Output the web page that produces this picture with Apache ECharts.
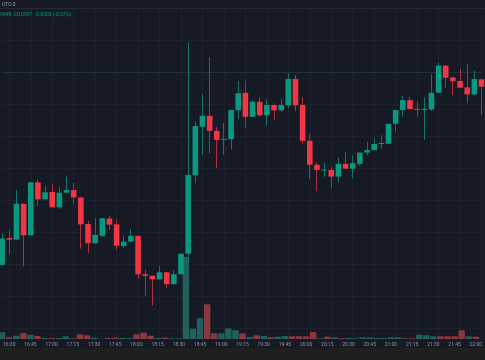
<!DOCTYPE html>
<html><head><meta charset="utf-8">
<style>html,body{margin:0;padding:0;background:#161a25;}#c{width:485px;height:360px;}</style>
<script src="https://cdn.jsdelivr.net/npm/echarts@6/dist/echarts.min.js"></script>
</head><body><div id="c"></div>
<script>
const categories = ["16:25","16:30","16:35","16:40","16:45","16:50","16:55","17:00","17:05","17:10","17:15","17:20","17:25","17:30","17:35","17:40","17:45","17:50","17:55","18:00","18:05","18:10","18:15","18:20","18:25","18:30","18:35","18:40","18:45","18:50","18:55","19:00","19:05","19:10","19:15","19:20","19:25","19:30","19:35","19:40","19:45","19:50","19:55","20:00","20:05","20:10","20:15","20:20","20:25","20:30","20:35","20:40","20:45","20:50","20:55","21:00","21:05","21:10","21:15","21:20","21:25","21:30","21:35","21:40","21:45","21:50","21:55","22:00"];
const opens = [0.09397,0.09481,0.09476,0.09588,0.09490,0.09655,0.09602,0.09625,0.09577,0.09623,
0.09631,0.09608,0.09525,0.09465,0.09488,0.09542,0.09524,0.09456,0.09470,0.09488,
0.09368,0.09363,0.09352,0.09374,0.09337,0.09368,0.09432,0.09677,0.09829,0.09863,
0.09816,0.09788,0.09790,0.09881,0.09935,0.09860,0.09907,0.09865,0.09897,0.09880,
0.09896,0.09978,0.09897,0.09785,0.09710,0.09693,0.09694,0.09673,0.09713,0.09698,
0.09713,0.09748,0.09756,0.09775,0.09776,0.09838,0.09881,0.09912,0.09885,0.09881,
0.09883,0.09935,0.10020,0.09983,0.09972,0.09952,0.09930,0.09977];
const closes = [0.09480,0.09476,0.09588,0.09490,0.09655,0.09602,0.09624,0.09577,0.09623,0.09631,
0.09608,0.09524,0.09465,0.09491,0.09543,0.09523,0.09457,0.09470,0.09488,0.09368,
0.09363,0.09352,0.09374,0.09337,0.09368,0.09432,0.09678,0.09831,0.09863,0.09816,
0.09788,0.09791,0.09881,0.09934,0.09860,0.09907,0.09865,0.09897,0.09880,0.09897,
0.09978,0.09896,0.09785,0.09710,0.09694,0.09695,0.09673,0.09713,0.09698,0.09715,
0.09748,0.09756,0.09775,0.09778,0.09838,0.09881,0.09912,0.09884,0.09882,0.09885,
0.09935,0.10020,0.09982,0.09971,0.09951,0.09930,0.09978,0.09954];
const highs = [0.09496,0.09506,0.09631,0.09589,0.09656,0.09665,0.09644,0.09651,0.09641,0.09676,
0.09653,0.09609,0.09534,0.09543,0.09544,0.09550,0.09540,0.09488,0.09509,0.09489,
0.09381,0.09364,0.09394,0.09375,0.09381,0.09433,0.10093,0.09845,0.09931,0.10046,
0.09827,0.09841,0.09882,0.09972,0.09973,0.09912,0.09920,0.09915,0.09898,0.09916,
0.09996,0.09991,0.09920,0.09806,0.09718,0.09717,0.09702,0.09733,0.09750,0.09740,
0.09748,0.09782,0.09794,0.09802,0.09838,0.09882,0.09925,0.09923,0.09907,0.09921,
0.09994,0.10029,0.10020,0.09984,0.10009,0.10024,0.10004,0.09978];
const lows = [0.09395,0.09430,0.09475,0.09392,0.09489,0.09582,0.09598,0.09577,0.09572,0.09621,
0.09588,0.09448,0.09435,0.09464,0.09483,0.09506,0.09444,0.09449,0.09469,0.09355,
0.09301,0.09270,0.09352,0.09324,0.09336,0.09367,0.09402,0.09652,0.09741,0.09745,
0.09699,0.09741,0.09758,0.09854,0.09826,0.09859,0.09860,0.09833,0.09850,0.09876,
0.09887,0.09878,0.09777,0.09665,0.09629,0.09673,0.09638,0.09654,0.09697,0.09667,
0.09707,0.09739,0.09755,0.09760,0.09774,0.09814,0.09860,0.09884,0.09860,0.09788,
0.09878,0.09934,0.09951,0.09928,0.09950,0.09902,0.09928,0.09866];
const volumes = [6700,1700,3300,6000,4300,3000,1000,1000,1000,2700,
700,4700,3700,1300,300,1000,1300,1000,1000,4700,
6300,3300,1000,1300,700,700,82000,10300,20700,34700,
5700,5700,10700,8700,5700,2000,3700,3000,1700,2300,
3000,2700,2700,2700,7000,700,2300,1700,700,1000,
700,1700,1700,1000,1000,1700,1700,700,700,4300,
3700,2700,2700,2700,2700,8700,2700,2300];
const headerText = "UTC-3";
const legendText = "9948  C0.0997  -0.0003 (-0.37%)";
const priceLineValue = 0.1;

const UP = '#089981', DOWN = '#f23645';
const UP_WICK = '#137563', DOWN_WICK = '#b02d3b';
const UP_VOL = '#21605d', DOWN_VOL = '#8b393e';
const BG = '#161a25', GRID = '#1d212c';

const candleData = categories.map((c, i) => [i, opens[i], closes[i], lows[i], highs[i]]);
const volData = volumes.map((v, i) => ({
  value: v,
  itemStyle: { color: closes[i] >= opens[i] ? UP_VOL : DOWN_VOL }
}));
const labelIdx = (idx) => idx % 3 === 1;

const chart = echarts.init(document.getElementById('c'), null, { renderer: 'canvas' });
chart.setOption({
  backgroundColor: BG,
  animation: false,
  grid: [
    { left: 2.15, right: 3.5, top: 8, bottom: 0 },
    { left: 2.15, right: 3.5, bottom: 21, height: 100 }
  ],
  xAxis: [
    { type: 'category', gridIndex: 0, data: categories, boundaryGap: false,
      axisLine: { show: false }, axisTick: { show: false }, axisLabel: { show: false },
      splitLine: { show: true, interval: labelIdx, lineStyle: { color: GRID, width: 1 } } },
    { type: 'category', gridIndex: 1, data: categories, boundaryGap: false,
      axisLine: { show: false }, axisTick: { show: false },
      axisLabel: { show: true, interval: labelIdx, color: '#8f939e', fontSize: 5, margin: 3,
        fontFamily: 'Roboto' },
      splitLine: { show: false } }
  ],
  yAxis: [
    { type: 'value', gridIndex: 0, min: 0.091, max: 0.102, interval: 0.001, scale: true,
      axisLine: { show: false }, axisTick: { show: false }, axisLabel: { show: false },
      splitLine: { show: true, lineStyle: { color: GRID, width: 1 } } },
    { type: 'value', gridIndex: 1, min: 0, max: 100000,
      axisLine: { show: false }, axisTick: { show: false }, axisLabel: { show: false },
      splitLine: { show: false } }
  ],
  series: [
    { type: 'bar', xAxisIndex: 1, yAxisIndex: 1, data: volData, barWidth: 6.4, z: 1,
      silent: true },
    { type: 'custom', xAxisIndex: 0, yAxisIndex: 0, data: candleData, z: 5,
      encode: { x: 0, y: [1, 2, 3, 4] },
      markLine: { silent: true, symbol: 'none', label: { show: false },
        lineStyle: { color: '#24302f', width: 1, type: 'solid' },
        data: [{ yAxis: priceLineValue }] },
      renderItem: function (params, api) {
        const i = api.value(0), o = api.value(1), c = api.value(2), l = api.value(3), h = api.value(4);
        const pO = api.coord([i, o]), pC = api.coord([i, c]);
        const pL = api.coord([i, l]), pH = api.coord([i, h]);
        const bw = api.size([1, 0])[0] * 0.78;
        const up = c >= o;
        const top = Math.min(pO[1], pC[1]);
        let bh = Math.abs(pO[1] - pC[1]);
        if (bh < 1) bh = 1;
        const wx = Math.round(pO[0] - 0.5);
        return {
          type: 'group',
          children: [
            { type: 'rect', shape: { x: wx, y: pH[1], width: 1, height: pL[1] - pH[1] },
              style: { fill: up ? UP_WICK : DOWN_WICK } },
            { type: 'rect', shape: { x: pO[0] - bw / 2, y: top, width: bw, height: bh },
              style: { fill: up ? UP : DOWN } }
          ]
        };
      }
    }
  ],
  graphic: [
    { type: 'rect', left: 0, top: 0, shape: { width: 485, height: 8 }, style: { fill: '#181b24' }, z: 10 },
    { type: 'rect', left: 0, top: 8, shape: { width: 485, height: 1 }, style: { fill: '#262a35' }, z: 10 },
    { type: 'text', left: 2, top: 2, style: { text: headerText, fill: '#9ea2ad', fontSize: 5, fontFamily: 'Roboto' }, z: 11 },
    { type: 'text', left: 0, top: 12, style: { text: legendText, fill: UP, fontSize: 5, fontFamily: 'Roboto' }, z: 11 },
    { type: 'rect', left: 0, top: 348, shape: { width: 485, height: 12 }, style: { fill: '#1f1f1f' }, z: 10 }
  ]
});
</script></body></html>
